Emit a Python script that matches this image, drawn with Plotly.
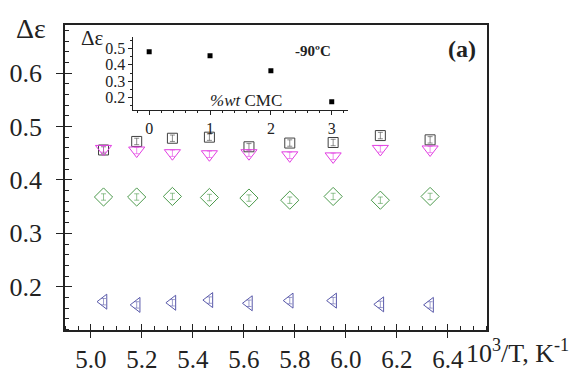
import plotly.graph_objects as go

# ---- data ----
inv_T = [5.05, 5.18, 5.32, 5.465, 5.62, 5.78, 5.95, 6.135, 6.33]
de_0 = [0.456, 0.472, 0.478, 0.480, 0.462, 0.469, 0.470, 0.483, 0.475]
de_1 = [0.458, 0.455, 0.450, 0.448, 0.450, 0.446, 0.444, 0.458, 0.457]
de_2 = [0.368, 0.368, 0.369, 0.367, 0.366, 0.362, 0.369, 0.362, 0.369]
de_3 = [0.172, 0.166, 0.170, 0.175, 0.169, 0.174, 0.174, 0.167, 0.166]
err = [0.006] * 9

cmc = [0, 1, 2, 3]
de_90 = [0.480, 0.455, 0.364, 0.176]

series = [
    (de_0, "square-open", 10, "#404040"),
    (de_1, "triangle-down-open", 14, "#e23ee2"),
    (de_2, "diamond-open", 14, "#4c9a4c"),
    (de_3, "triangle-left-open", 13, "#5a5aaa"),
]

FONT = "Liberation Serif, Times New Roman, Times, serif"
fig = go.Figure()
for ys, sym, sz, col in series:
    fig.add_trace(go.Scatter(
        x=inv_T, y=ys, mode="markers",
        marker=dict(symbol=sym, size=sz, color=col, line=dict(width=1, color=col)),
        error_y=dict(type="data", array=err, color=col, thickness=0.6, width=2.5),
        showlegend=False, xaxis="x", yaxis="y"))

# dummy trace for overlay axes (inside major ticks)
fig.add_trace(go.Scatter(x=[None], y=[None], xaxis="x3", yaxis="y3", showlegend=False))

# inset
fig.add_trace(go.Scatter(
    x=cmc, y=de_90, mode="markers",
    marker=dict(symbol="square", size=5, color="black"),
    showlegend=False, xaxis="x2", yaxis="y2"))

xr = [4.899, 6.553]
yr = [0.119, 0.69]
fig.update_layout(
    width=573, height=364,
    margin=dict(l=57, r=94, t=17, b=42),
    paper_bgcolor="white", plot_bgcolor="white",
    font=dict(family=FONT, color="#222"),
    xaxis=dict(range=xr, automargin=False, showgrid=False, zeroline=False, showline=True,
               linecolor="#222", linewidth=1.5, mirror=True, ticks="outside", ticklen=6,
               tickcolor="#222", dtick=0.2, tick0=5.0, tickformat=".1f",
               tickfont=dict(size=25, family=FONT), ticklabelstandoff=0,
               minor=dict(ticks="inside", ticklen=4, dtick=0.05, tickcolor="#222", showgrid=False)),
    yaxis=dict(range=yr, automargin=False, showgrid=False, zeroline=False, showline=True,
               linecolor="#222", linewidth=1.5, mirror=True, ticks="outside", ticklen=7,
               tickcolor="#222", dtick=0.1, tick0=0.2, tickformat=".1f",
               tickfont=dict(size=26, family=FONT), ticklabelstandoff=9,
               minor=dict(ticks="inside", ticklen=4, dtick=0.02, tickcolor="#222", showgrid=False)),
    xaxis3=dict(range=xr, automargin=False, overlaying="x", showgrid=False, zeroline=False,
                showline=False, ticks="inside", ticklen=6, tickcolor="#222", dtick=0.2,
                tick0=5.0, showticklabels=False),
    yaxis3=dict(range=yr, automargin=False, overlaying="y", showgrid=False, zeroline=False,
                showline=False, ticks="inside", ticklen=7, tickcolor="#222", dtick=0.1,
                tick0=0.2, showticklabels=False),
    xaxis2=dict(domain=[0.162, 0.671], anchor="y2", range=[-0.26, 3.27], automargin=False,
                showgrid=False, zeroline=False, showline=True, linecolor="#222", linewidth=1,
                ticks="outside", ticklen=4, tickcolor="#222", dtick=1, tick0=0,
                tickfont=dict(size=16, family=FONT), ticklabelstandoff=0,
                minor=dict(ticks="outside", ticklen=2, dtick=0.2, tickcolor="#222", showgrid=False)),
    yaxis2=dict(domain=[0.721, 0.961], anchor="x2", range=[0.125, 0.57], automargin=False,
                showgrid=False, zeroline=False, showline=True, linecolor="#222", linewidth=1,
                ticks="outside", ticklen=4, tickcolor="#222", dtick=0.1, tick0=0.2,
                tickformat=".1f", tickfont=dict(size=16, family=FONT),
                minor=dict(ticks="outside", ticklen=2, dtick=0.05, tickcolor="#222", showgrid=False)),
)

ann = [
    dict(text="Δε", x=-0.08, y=0.99, size=28, xa="center"),
    dict(text="10<sup>3</sup>/T, K<sup>-1</sup>", x=1.2, y=-0.072, size=26, xa="right"),
    dict(text="<b>(a)</b>", x=0.94, y=0.92, size=24, xa="center"),
    dict(text="<b>-90ºC</b>", x=0.588, y=0.915, size=15, xa="center"),
    dict(text="<i>%wt</i> CMC", x=0.429, y=0.754, size=17, xa="center"),
    dict(text="Δε", x=0.066, y=0.957, size=21, xa="center"),
]
for a in ann:
    fig.add_annotation(text=a["text"], x=a["x"], y=a["y"], xref="paper", yref="paper",
                       showarrow=False, xanchor=a["xa"], yanchor="middle",
                       font=dict(size=a["size"], family=FONT, color="#222"))

fig.write_html("out.html")
